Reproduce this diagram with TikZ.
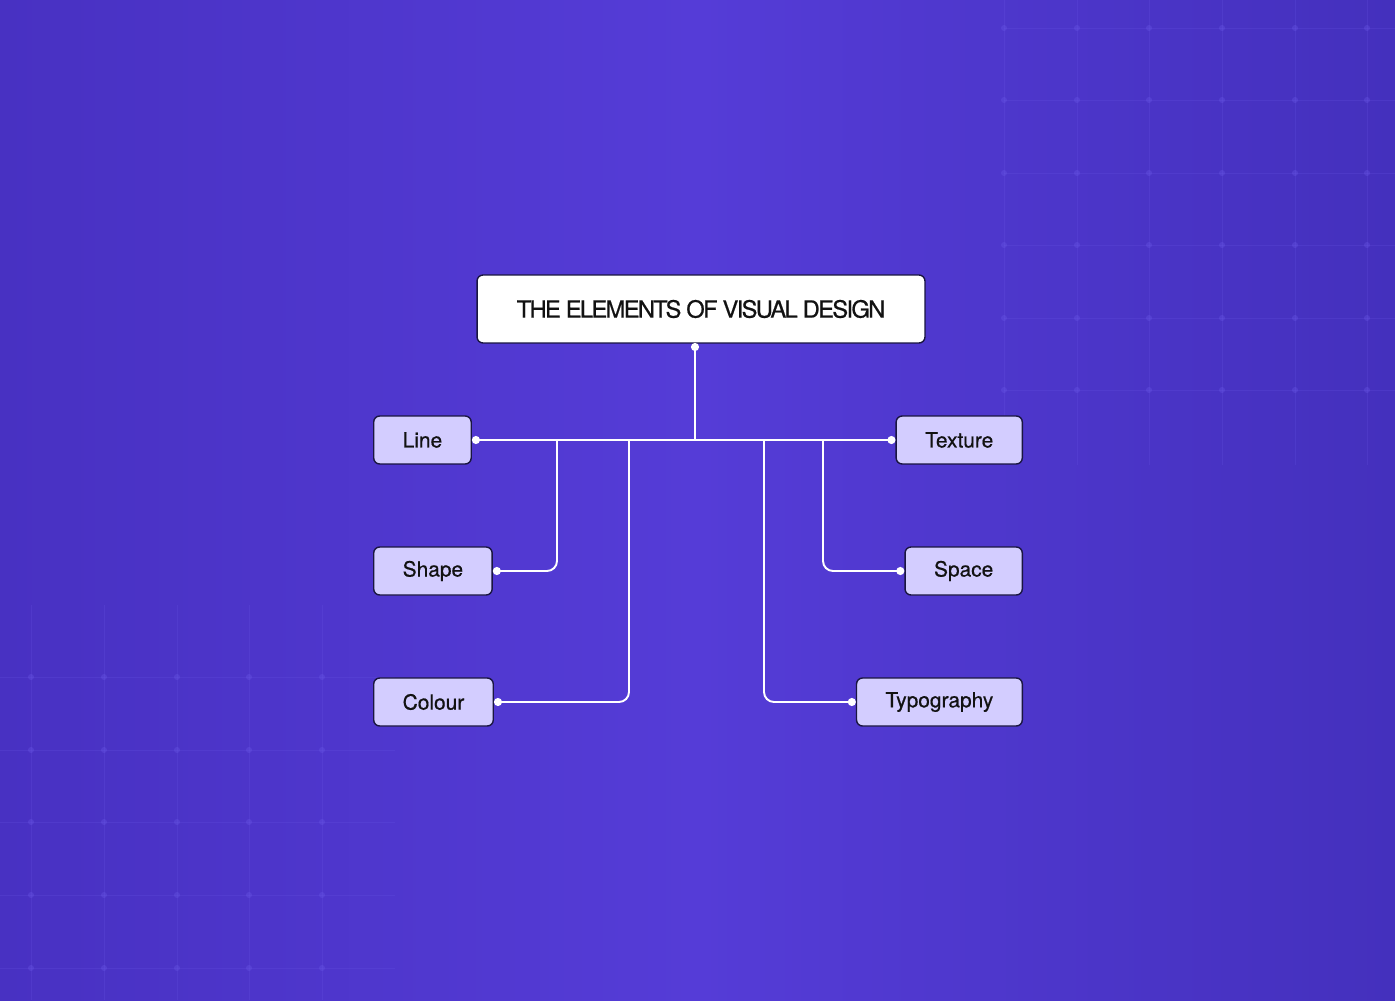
\documentclass[tikz,border=0pt]{standalone}
\usepackage{fontspec}
\setmainfont[FakeBold=0.6]{TeX Gyre Heros}
\newfontfamily\titlefont[LetterSpace=-7, FakeBold=0.7]{TeX Gyre Heros}
\usetikzlibrary{arrows.meta}

\definecolor{bgside}{HTML}{4831C2}
\definecolor{bgmid}{HTML}{553CD7}
\definecolor{bgedge}{HTML}{4430BD}
\definecolor{gridline}{HTML}{6A58E6}
\definecolor{boxfill}{HTML}{D3CDFF}
\definecolor{boxline}{HTML}{1A1640}
\definecolor{ink}{HTML}{121212}

\tikzset{
  titlebox/.style={draw=boxline, line width=0.8pt, fill=white, rounded corners=0.12cm,
    minimum width=8.96cm, minimum height=1.36cm, text=ink,
    font=\titlefont\fontsize{13.5}{16}\selectfont},
  itembox/.style={draw=boxline, line width=0.8pt, fill=boxfill, rounded corners=0.12cm,
    minimum height=0.96cm, inner xsep=0.58cm, text=ink,
    font=\fontsize{11.9}{14}\selectfont},
  wire/.style={draw=white, line width=1.1pt},
  dotted end/.style={-{Circle[length=0.16cm]}},
  dotted start/.style={{Circle[length=0.16cm]}-},
  dotted both/.style={{Circle[length=0.16cm]}-{Circle[length=0.16cm]}}
}

\begin{document}
\begin{tikzpicture}[x=0.02cm, y=-0.02cm]

% Background
\useasboundingbox (0,0) rectangle (1395,1000);
\shade [left color=bgside, right color=bgedge, middle color=bgmid] (0,0) rectangle (1395,1000);

% Faint grid, top right and bottom left
\begin{scope}[draw=gridline, draw opacity=0.22, line width=0.5pt]
  \foreach \gx in {1004,1077,1149,1222,1295,1367}
    \draw (\gx,0) -- (\gx,465);
  \foreach \gy in {28,100,173,245,318,390}
    \draw (1004,\gy) -- (1395,\gy);
  \foreach \gx in {31,104,177,249,322}
    \draw (\gx,605) -- (\gx,1000);
  \foreach \gy in {677,750,822,895,968}
    \draw (0,\gy) -- (395,\gy);
\end{scope}
\begin{scope}[fill=gridline, fill opacity=0.35]
  \foreach \gx in {1004,1077,1149,1222,1295,1367}
    \foreach \gy in {28,100,173,245,318,390}
      \fill (\gx,\gy) circle (3);
  \foreach \gx in {31,104,177,249,322}
    \foreach \gy in {677,750,822,895,968}
      \fill (\gx,\gy) circle (3);
\end{scope}

% Title
\node [titlebox] (title) at (701,309) {THE ELEMENTS OF VISUAL DESIGN};

% Left items
\node [itembox, anchor=west] (line) at (373,440) {Line};
\node [itembox, anchor=west] (shape) at (373,571) {Shape};
\node [itembox, anchor=west] (colour) at (373,702) {Colour};

% Right items
\node [itembox, anchor=east] (texture) at (1023,440) {Texture};
\node [itembox, anchor=east] (space) at (1023,571) {Space};
\node [itembox, anchor=east] (typo) at (1023,702) {Typography};

% Junctions on the trunk
\coordinate (tdot) at (695,343);
\coordinate (hub) at (695,440);
\coordinate (shapej) at (557,440);
\coordinate (colourj) at (629,440);
\coordinate (typoj) at (764,440);
\coordinate (spacej) at (823,440);

% Connectors
\draw [wire, dotted start] (tdot) -- (hub);
\draw [wire, dotted both] (line.east) -- (texture.west);
\draw [wire, dotted end, rounded corners=0.2cm] (shapej) |- (shape.east);
\draw [wire, dotted end, rounded corners=0.2cm] (colourj) |- (colour.east);
\draw [wire, dotted end, rounded corners=0.2cm] (spacej) |- (space.west);
\draw [wire, dotted end, rounded corners=0.2cm] (typoj) |- (typo.west);

\end{tikzpicture}
\end{document}
